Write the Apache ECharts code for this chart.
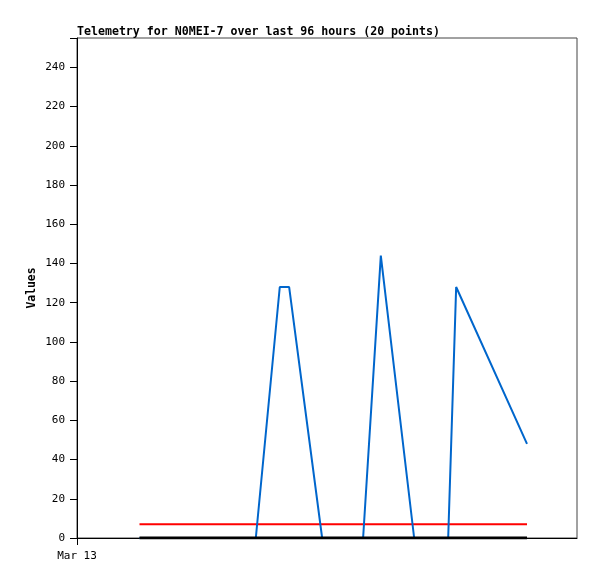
<!DOCTYPE html>
<html>
<head>
<meta charset="utf-8">
<script src="https://cdn.jsdelivr.net/npm/echarts@6/dist/echarts.min.js"></script>
<style>html,body{margin:0;padding:0;background:#fff;}#c{width:597px;height:579px;}</style>
</head>
<body>
<div id="c"></div>
<script>
// Sample times (Mar 13, HH:MM) and values
var blueTimes  = ['03:00','08:35','09:44','10:11','11:46','13:44','14:35','16:11','17:49','18:12','21:36'];
var blueValues = [0, 0, 128, 128, 0, 0, 144, 0, 0, 128, 48];
var redTimes   = ['03:00','21:36'];
var redValues  = [7, 7];
var blackTimes = ['03:00','21:36'];
var blackValues= [0, 0];
var yTicks = [0,20,40,60,80,100,120,140,160,180,200,220,240];
var xLabel = 'Mar 13';

function toHours(t){var p=t.split(':');return +p[0]+ (+p[1])/60;}
function pairs(ts,vs){return ts.map(function(t,i){return [toHours(t),vs[i]];});}

var font = 'DejaVu Sans Mono';
var chart = echarts.init(document.getElementById('c'), null, {renderer:'canvas'});
chart.setOption({
  animation:false,
  backgroundColor:'#fff',
  title:{
    text:'Telemetry for N0MEI-7 over last 96 hours (20 points)',
    left:72, top:21,
    textStyle:{fontFamily:font,fontSize:11.6,fontWeight:'bold',color:'#000'}
  },
  grid:{left:77, top:38, width:500, height:500, show:true, borderColor:'#444', borderWidth:1, backgroundColor:'#fff'},
  xAxis:{
    type:'value', min:0, max:24, interval:48,
    axisLine:{show:true,onZero:false,lineStyle:{color:'#000',width:1}},
    axisTick:{show:false},
    axisLabel:{show:true,margin:13,fontFamily:font,fontSize:11,color:'#000',customValues:[0],
      formatter:function(v){return v===0?xLabel:'';}},
    splitLine:{show:false}
  },
  yAxis:{
    type:'value', min:0, max:255, interval:20,
    name:'Values', nameLocation:'middle', nameGap:39, nameRotate:90, nameMoveOverlap:false,
    nameTextStyle:{fontFamily:font,fontSize:11.4,fontWeight:'bold',color:'#000'},
    axisLine:{show:true,lineStyle:{color:'#000',width:1}},
    axisTick:{show:true,length:7,inside:false,lineStyle:{color:'#000'}},
    axisLabel:{margin:12,fontFamily:font,fontSize:11,color:'#000',
      formatter:function(v){return yTicks.indexOf(v)>=0?String(v):'';}},
    splitLine:{show:false}
  },
  series:[
    {type:'line',data:pairs(redTimes,redValues),showSymbol:false,lineStyle:{color:'#ff0000',width:2},z:2},
    {type:'line',data:pairs(blueTimes,blueValues),showSymbol:false,lineStyle:{color:'#0066cc',width:2},z:3},
    {type:'line',data:pairs(blackTimes,blackValues),showSymbol:false,lineStyle:{color:'#000000',width:3},z:4}
  ]
});
// x-axis tick for the single date label, placed through the axis scale
var tp = chart.convertToPixel({gridIndex:0},[0,0]);
var tx = Math.round(tp[0]) + 0.5, ty = Math.round(tp[1]);
chart.setOption({graphic:[{type:'line',shape:{x1:tx,y1:ty,x2:tx,y2:ty+7},style:{stroke:'#000',lineWidth:1},z:10}]});
</script>
</body>
</html>
